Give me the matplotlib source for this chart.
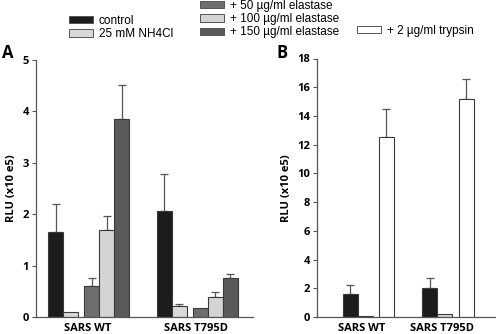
import matplotlib
matplotlib.use("Agg")
import matplotlib.pyplot as plt
from matplotlib.patches import Patch
import numpy as np

groups = ["SARS WT", "SARS T795D"]

# Panel A
a_labels = ["control", "25 mM NH4Cl", "+ 50 µg/ml elastase", "+ 100 µg/ml elastase", "+ 150 µg/ml elastase"]
a_values = {
    "SARS WT":    [1.65, 0.10, 0.60, 1.70, 3.85],
    "SARS T795D": [2.06, 0.22, 0.17, 0.39, 0.76],
}
a_errors = {
    "SARS WT":    [0.54, 0.0, 0.16, 0.27, 0.66],
    "SARS T795D": [0.72, 0.03, 0.0, 0.09, 0.08],
}
a_colors = ["#1c1c1c", "#d9d9d9", "#6e6e6e", "#d4d4d4", "#5a5a5a"]

# Panel B
b_labels = ["control", "25 mM NH4Cl", "+ 2 µg/ml trypsin"]
b_values = {
    "SARS WT":    [1.62, 0.10, 12.5],
    "SARS T795D": [2.03, 0.20, 15.2],
}
b_errors = {
    "SARS WT":    [0.58, 0.0, 2.0],
    "SARS T795D": [0.72, 0.0, 1.35],
}
b_colors = ["#1c1c1c", "#d9d9d9", "#ffffff"]

W, H = 496, 334
fig = plt.figure(figsize=(W / 100, H / 100), dpi=100)

tickfont = dict(family="Open Sans", weight="bold", size=8)
edge = "#3a3a3a"
axcol = "#555555"

def style(ax, ylim, yticks):
    ax.set_ylim(*ylim)
    ax.set_yticks(yticks)
    for s in ["top", "right"]:
        ax.spines[s].set_visible(False)
    for s in ["left", "bottom"]:
        ax.spines[s].set_color(axcol)
        ax.spines[s].set_linewidth(0.9)
    ax.tick_params(axis="y", length=3, width=0.8, color=axcol, pad=2)
    ax.tick_params(axis="x", length=0, pad=4)
    for lab in ax.get_yticklabels() + ax.get_xticklabels():
        lab.set_fontfamily("Open Sans")
        lab.set_fontweight("bold")
        lab.set_fontsize(8)
    ax.set_ylabel("RLU (x10 e5)", fontdict=tickfont, labelpad=4)

# Panel A axes
axA = fig.add_axes([36 / W, (H - 317) / H, (253 - 36) / W, (317 - 60) / H])
a_offsets = [0, 1, 2.37, 3.37, 4.37]
a_sep = 7.23
for gi, g in enumerate(groups):
    for i in range(5):
        x = gi * a_sep + a_offsets[i]
        v = a_values[g][i]
        e = a_errors[g][i]
        axA.bar(x, v, width=1.0, color=a_colors[i], edgecolor=edge, linewidth=0.8, zorder=2)
        if e > 0:
            axA.errorbar(x, v, yerr=[[0], [e]], fmt="none", ecolor="#555555",
                         elinewidth=0.9, capsize=3, capthick=0.9, zorder=1)
axA.set_xlim(-1.33, 13.13)
axA.set_xticks([2.13 + gi * a_sep for gi in range(2)])
axA.set_xticklabels(groups)
style(axA, (0, 5), [0, 1, 2, 3, 4, 5])

# Panel B axes
axB = fig.add_axes([317 / W, (H - 317) / H, (496 - 317) / W, (317 - 58.5) / H])
b_offsets = [0, 1, 2.43]
b_sep = 5.33
for gi, g in enumerate(groups):
    for i in range(3):
        x = gi * b_sep + b_offsets[i]
        v = b_values[g][i]
        e = b_errors[g][i]
        axB.bar(x, v, width=1.0, color=b_colors[i], edgecolor=edge, linewidth=0.8, zorder=2)
        if e > 0:
            axB.errorbar(x, v, yerr=[[0], [e]], fmt="none", ecolor="#555555",
                         elinewidth=0.9, capsize=3, capthick=0.9, zorder=1)
axB.set_xlim(-2.2, 9.73)
axB.set_xticks([0.78 + gi * b_sep for gi in range(2)])
axB.set_xticklabels(groups)
style(axB, (0, 18), list(range(0, 19, 2)))

# Panel letters
fig.text(2 / W, 1 - 58 / H, "A", fontsize=12, fontweight="bold", family="Open Sans", va="baseline")
fig.text(276 / W, 1 - 58 / H, "B", fontsize=12, fontweight="bold", family="Open Sans", va="baseline")

# Legends
def mk(colors, labels, idx):
    return [Patch(facecolor=colors[i], edgecolor="#555555", linewidth=0.7, label=labels[i]) for i in idx]

legkw = dict(frameon=False, loc="upper left", prop=dict(family="Liberation Sans", size=8.5),
             handlelength=2.0, handleheight=0.55, handletextpad=0.5, labelspacing=0.1,
             borderpad=0, borderaxespad=0)
fig.legend(handles=mk(a_colors, a_labels, [0, 1]), bbox_to_anchor=(69 / W, 1 - 15 / H), **legkw)
fig.legend(handles=mk(a_colors, a_labels, [2, 3, 4]), bbox_to_anchor=(200 / W, 1 - 0 / H), **legkw)
fig.legend(handles=mk(b_colors, b_labels, [2]), bbox_to_anchor=(357 / W, 1 - 25 / H), **legkw)

fig.savefig("out.png", dpi=100)
